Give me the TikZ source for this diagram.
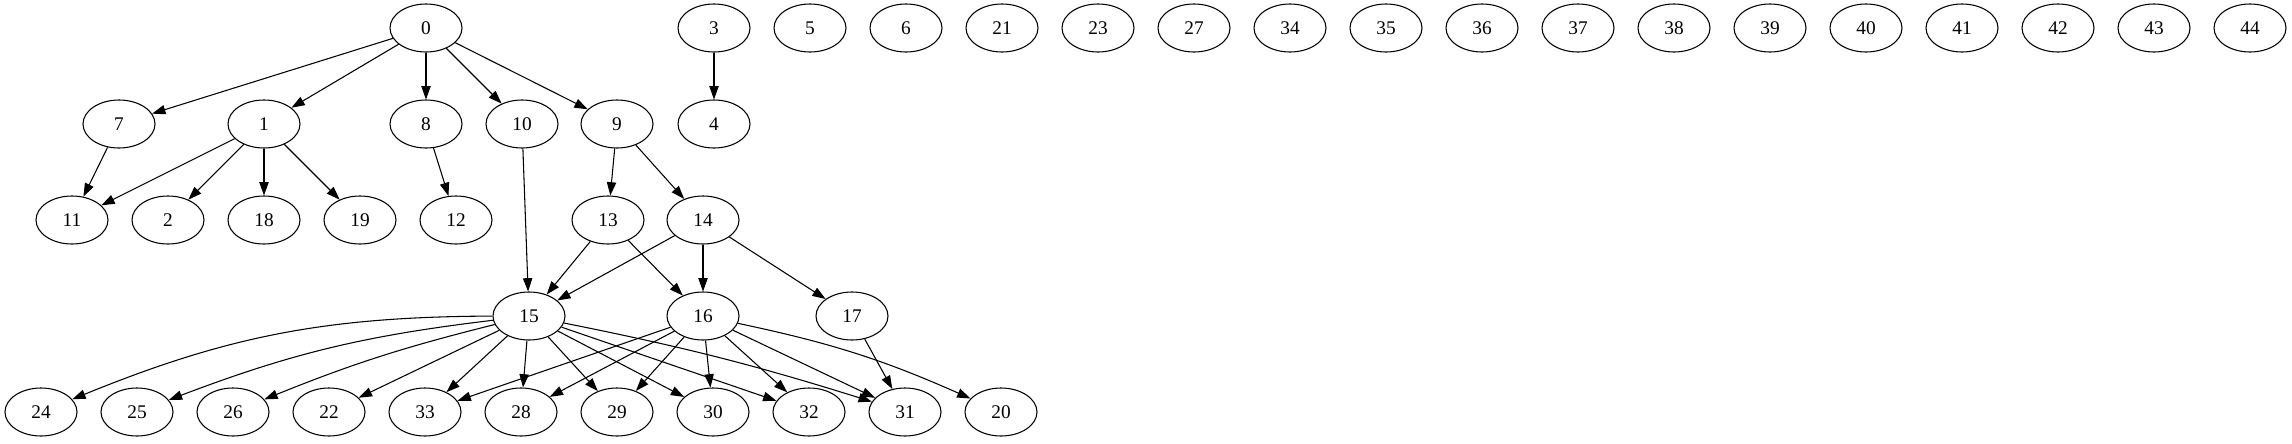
\documentclass[tikz,border=0pt]{standalone}
\usepackage{fontspec}
\setmainfont{Liberation Serif}
\usetikzlibrary{shapes.geometric,arrows.meta}
\begin{document}
\begin{tikzpicture}[x=0.75pt,y=-0.75pt,
  gnode/.style={draw,ellipse,minimum width=54pt,minimum height=36pt,inner sep=0pt,line width=0.8pt,font=\fontsize{14.5}{16}\selectfont},
  gedge/.style={-{Triangle[length=10pt,width=7pt]},line width=0.8pt}]
\path[use as bounding box] (0,0) rectangle (2292,443);
% row 1
\node[gnode] (n0) at (426,28) {0};
\node[gnode] (n3) at (714,28) {3};
\node[gnode] (n5) at (810,28) {5};
\node[gnode] (n6) at (906,28) {6};
\node[gnode] (n21) at (1002,28) {21};
\node[gnode] (n23) at (1098,28) {23};
\node[gnode] (n27) at (1194,28) {27};
\node[gnode] (n34) at (1290,28) {34};
\node[gnode] (n35) at (1386,28) {35};
\node[gnode] (n36) at (1482,28) {36};
\node[gnode] (n37) at (1578,28) {37};
\node[gnode] (n38) at (1674,28) {38};
\node[gnode] (n39) at (1770,28) {39};
\node[gnode] (n40) at (1866,28) {40};
\node[gnode] (n41) at (1962,28) {41};
\node[gnode] (n42) at (2058,28) {42};
\node[gnode] (n43) at (2154,28) {43};
\node[gnode] (n44) at (2250,28) {44};
% row 2
\node[gnode] (n7) at (119,124) {7};
\node[gnode] (n1) at (264,124) {1};
\node[gnode] (n8) at (426,124) {8};
\node[gnode] (n10) at (522,124) {10};
\node[gnode] (n9) at (617,124) {9};
\node[gnode] (n4) at (714,124) {4};
% row 3
\node[gnode] (n11) at (72,220) {11};
\node[gnode] (n2) at (168,220) {2};
\node[gnode] (n18) at (264,220) {18};
\node[gnode] (n19) at (360,220) {19};
\node[gnode] (n12) at (456,220) {12};
\node[gnode] (n13) at (608,220) {13};
\node[gnode] (n14) at (703,220) {14};
% row 4
\node[gnode] (n15) at (529,316) {15};
\node[gnode] (n16) at (703,316) {16};
\node[gnode] (n17) at (852,316) {17};
% row 5
\node[gnode] (n24) at (41,412) {24};
\node[gnode] (n25) at (137,412) {25};
\node[gnode] (n26) at (233,412) {26};
\node[gnode] (n22) at (329,412) {22};
\node[gnode] (n33) at (425,412) {33};
\node[gnode] (n28) at (521,412) {28};
\node[gnode] (n29) at (617,412) {29};
\node[gnode] (n30) at (713,412) {30};
\node[gnode] (n32) at (809,412) {32};
\node[gnode] (n31) at (905,412) {31};
\node[gnode] (n20) at (1001,412) {20};
% edges
\draw[gedge] (n0) -- (n7);
\draw[gedge] (n0) -- (n1);
\draw[gedge] (n0) -- (n8);
\draw[gedge] (n0) -- (n10);
\draw[gedge] (n0) -- (n9);
\draw[gedge] (n3) -- (n4);
\draw[gedge] (n7) -- (n11);
\draw[gedge] (n1) -- (n11);
\draw[gedge] (n1) -- (n2);
\draw[gedge] (n1) -- (n18);
\draw[gedge] (n1) -- (n19);
\draw[gedge] (n8) -- (n12);
\draw[gedge] (n10) -- (n15);
\draw[gedge] (n9) -- (n13);
\draw[gedge] (n9) -- (n14);
\draw[gedge] (n13) -- (n15);
\draw[gedge] (n13) -- (n16);
\draw[gedge] (n14) -- (n15);
\draw[gedge] (n14) -- (n16);
\draw[gedge] (n14) -- (n17);
\draw[gedge] (n15) to[bend right=11] (n24);
\draw[gedge] (n15) to[bend right=7] (n25);
\draw[gedge] (n15) to[bend right=4] (n26);
\draw[gedge] (n15) -- (n22);
\draw[gedge] (n15) -- (n33);
\draw[gedge] (n15) -- (n28);
\draw[gedge] (n15) -- (n29);
\draw[gedge] (n15) -- (n30);
\draw[gedge] (n15) -- (n32);
\draw[gedge] (n15) to[bend left=3] (n31);
\draw[gedge] (n16) -- (n33);
\draw[gedge] (n16) -- (n28);
\draw[gedge] (n16) -- (n29);
\draw[gedge] (n16) -- (n30);
\draw[gedge] (n16) -- (n32);
\draw[gedge] (n16) -- (n31);
\draw[gedge] (n16) to[bend left=6] (n20);
\draw[gedge] (n17) -- (n31);
\end{tikzpicture}
\end{document}
